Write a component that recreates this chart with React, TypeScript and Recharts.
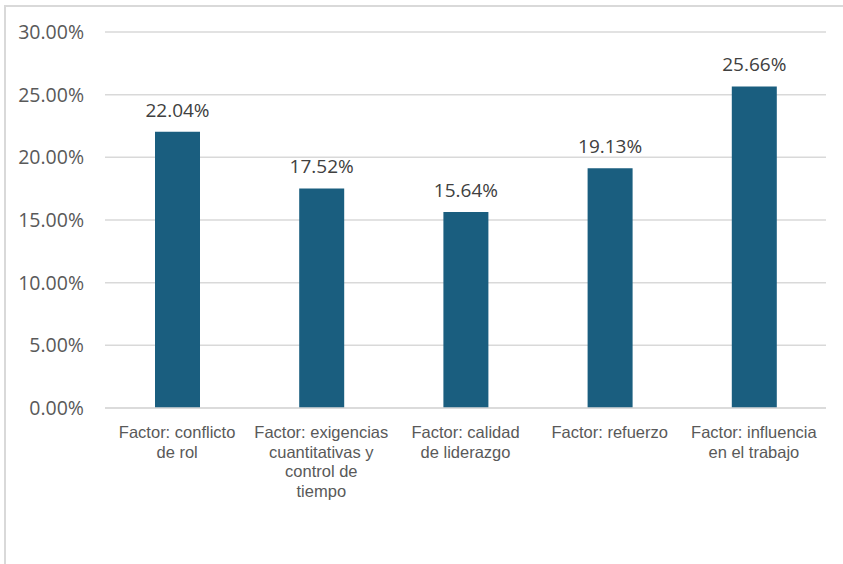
import { BarChart, Bar, XAxis, YAxis, CartesianGrid, LabelList } from 'recharts'

const categories = [
  'Factor: conflicto\nde rol',
  'Factor: exigencias\ncuantitativas y\ncontrol de\ntiempo',
  'Factor: calidad\nde liderazgo',
  'Factor: refuerzo',
  'Factor: influencia\nen el trabajo',
]
const percentages = [22.04, 17.52, 15.64, 19.13, 25.66]
const yTicks = [0, 5, 10, 15, 20, 25, 30]

const chartData = categories.map((name, i) => ({ name, value: percentages[i] }))

const fmt = (v: number) => `${v.toFixed(2)}%`

function CategoryTick({ x, y, payload }: any) {
  const lines = String(payload.value).split('\n')
  return (
    <text
      x={x}
      y={y}
      textAnchor="middle"
      fill="#595959"
      fontSize={16.5}
      fontFamily="'Liberation Sans', Arial, sans-serif"
    >
      {lines.map((line, i) => (
        <tspan key={i} x={x} dy={i === 0 ? 22 : 19.5}>
          {line}
        </tspan>
      ))}
    </text>
  )
}

export default function App() {
  return (
    <div
      style={{
        position: 'absolute',
        left: 0,
        top: 0,
        width: 843,
        height: 564,
        background: '#fff',
        overflow: 'hidden',
      }}
    >
      <div
        style={{
          position: 'absolute',
          left: 4,
          top: 5,
          right: -2,
          bottom: -2,
          borderTop: '2px solid #d9d9d9',
          borderLeft: '2px solid #d9d9d9',
        }}
      />
      <BarChart
        width={843}
        height={564}
        data={chartData}
        margin={{ top: 32, right: 17, bottom: 0, left: 0 }}
        barSize={45}
      >
        <CartesianGrid vertical={false} stroke="#d9d9d9" strokeWidth={1.5} />
        <XAxis
          dataKey="name"
          height={156}
          interval={0}
          tickLine={false}
          axisLine={{ stroke: '#d9d9d9', strokeWidth: 1.5 }}
          tick={<CategoryTick />}
        />
        <YAxis
          width={105}
          domain={[0, 30]}
          ticks={yTicks}
          tickFormatter={fmt}
          axisLine={false}
          tickLine={false}
          tickMargin={15}
          tick={{ fill: '#595959', fontSize: 19.5, fontFamily: "'Open Sans', sans-serif" }}
        />
        <Bar dataKey="value" fill="#1a5e7f" isAnimationActive={false}>
          <LabelList
            dataKey="value"
            position="top"
            offset={15}
            formatter={(v: any) => fmt(Number(v))}
            style={{ fill: '#404040', fontSize: 19, fontFamily: "'Open Sans', sans-serif" }}
          />
        </Bar>
      </BarChart>
    </div>
  )
}
